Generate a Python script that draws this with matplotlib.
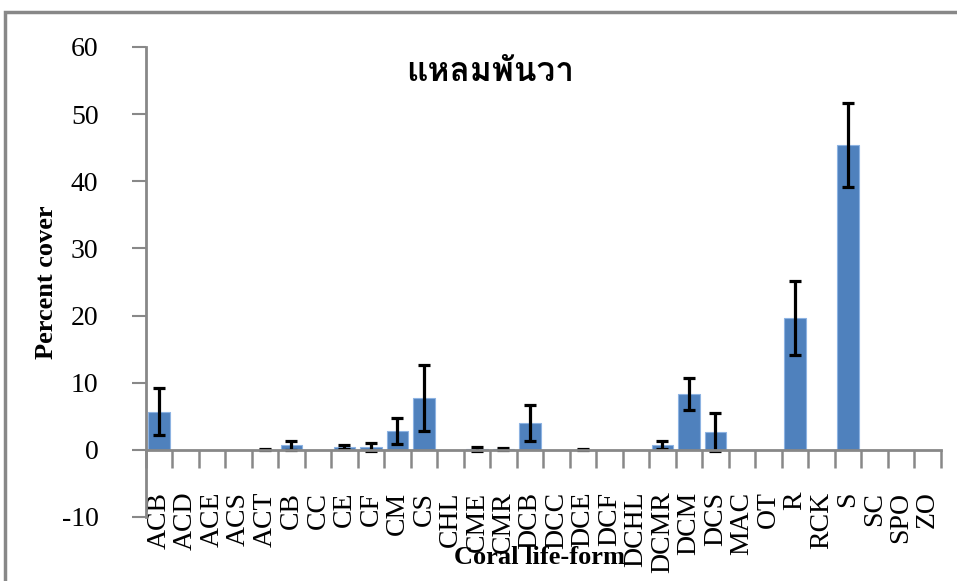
import matplotlib
matplotlib.use('Agg')
import matplotlib.pyplot as plt
from matplotlib import font_manager
from matplotlib.ft2font import FT2Font
from matplotlib.patches import Rectangle
import numpy as np

forms = ['ACB', 'ACD', 'ACE', 'ACS', 'ACT', 'CB', 'CC', 'CE', 'CF', 'CM', 'CS',
         'CHL', 'CME', 'CMR', 'DCB', 'DCC', 'DCE', 'DCF', 'DCHL', 'DCMR', 'DCM',
         'DCS', 'MAC', 'OT', 'R', 'RCK', 'S', 'SC', 'SPO', 'ZO']
cover = [5.7, 0, 0, 0, 0.05, 0.65, 0, 0.4, 0.4, 2.8, 7.7,
         0, 0.15, 0.15, 4.0, 0, 0.05, 0, 0, 0.75, 8.3,
         2.7, 0, 0, 19.7, 0, 45.4, 0, 0, 0]
err = [3.5, 0, 0, 0, 0.1, 0.6, 0, 0.3, 0.55, 1.9, 4.9,
       0, 0.3, 0.2, 2.65, 0, 0.1, 0, 0, 0.55, 2.4,
       2.85, 0, 0, 5.5, 0, 6.3, 0, 0, 0]
title = 'แหลมพันวา'

# find a font that can draw Thai
thai_font = None
for f in font_manager.fontManager.ttflist:
    try:
        if 0x0E41 in FT2Font(f.fname).get_charmap():
            thai_font = f.name
            break
    except Exception:
        pass

plt.rcParams['font.family'] = ['Liberation Serif', 'DejaVu Serif']
plt.rcParams['axes.unicode_minus'] = False

fig = plt.figure(figsize=(9.57, 5.81), dpi=100)
ax = fig.add_axes([145.7/957, 1-517/581, (940.7-145.7)/957, 470/581])

x = np.arange(len(forms))
ax.bar(x, cover, width=0.8, color='#4F81BD', edgecolor='#8DB3E2', linewidth=0.8, zorder=2)
has = [i for i in x if err[i] > 0]
ax.errorbar([x[i] for i in has], [cover[i] for i in has], yerr=[err[i] for i in has],
            fmt='none', ecolor='black', elinewidth=2.3, capsize=4.3, capthick=2.3, zorder=3)

ax.set_xlim(-0.5, len(forms)-0.5)
ax.set_ylim(-10, 60)
ax.set_yticks(range(-10, 61, 10))
ax.tick_params(axis='y', length=10, width=1.5, color='#888888', pad=24, labelsize=20)

for s in ['top', 'right']:
    ax.spines[s].set_visible(False)
ax.spines['left'].set_color('#888888')
ax.spines['left'].set_linewidth(2)
ax.spines['bottom'].set_position(('data', 0))
ax.spines['bottom'].set_color('#888888')
ax.spines['bottom'].set_linewidth(2)
ax.spines['bottom'].set_zorder(4)

ax.set_xticks(x)
ax.set_xticklabels(forms, rotation=90, fontsize=20, va='top')
ax.set_xticks(np.arange(-0.5, len(forms)), minor=True)
ax.tick_params(axis='x', which='major', length=0, pad=30)
ax.tick_params(axis='x', which='minor', direction='out', length=13, width=1.8,
               color='#888888', bottom=True)

ax.set_ylabel('Percent cover', fontsize=19, fontweight='bold')
ax.yaxis.set_label_coords(-88/795, 0.5)
fig.text(540/957, 1-558/581, 'Coral life-form', fontsize=19, fontweight='bold',
         ha='center', va='center')

tfam = [thai_font, 'DejaVu Sans'] if thai_font else ['DejaVu Sans']
fig.text(490/957, 1-72/581, title, fontsize=24, fontweight='bold',
         ha='center', va='center', family=tfam)

fig.patches.append(Rectangle((5/957, -0.1), 1.2, 1.1-12/581, transform=fig.transFigure,
                             fill=False, edgecolor='#888888', linewidth=2.5))

fig.savefig('out.png', dpi=100)
